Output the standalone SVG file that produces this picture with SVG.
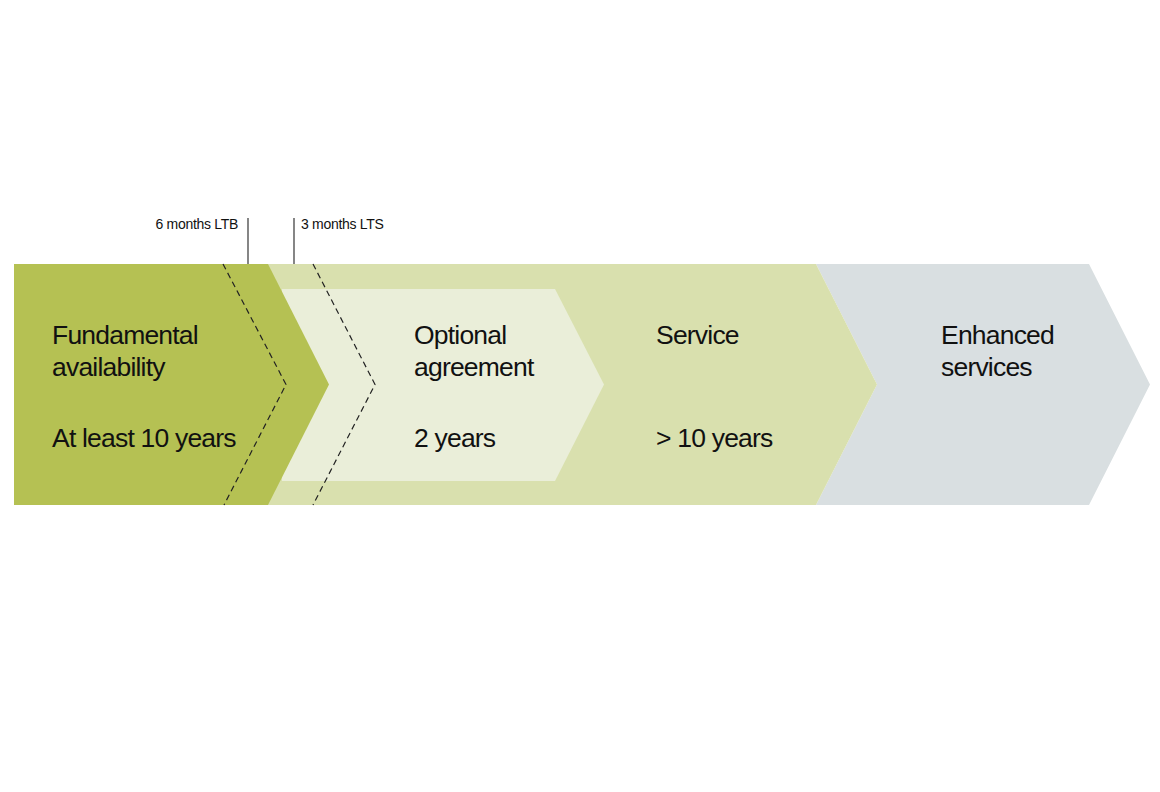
<svg xmlns="http://www.w3.org/2000/svg" width="1160" height="792" viewBox="0 0 1160 792">
<style>
.t{font-family:"Liberation Sans",Arial,sans-serif;font-size:26.5px;letter-spacing:-0.8px;fill:#111}
.s{font-family:"Liberation Sans",Arial,sans-serif;font-size:14px;letter-spacing:-0.3px;fill:#111}
.d{fill:none;stroke:#222;stroke-width:1.2;stroke-dasharray:6,4}
.v{stroke:#444;stroke-width:1.3}
</style>
<rect width="1160" height="792" fill="#fff"/>
<g id="enhanced">
<polygon points="816,264 1089,264 1150,384.5 1089,505 816,505 877,384.5" fill="#d9dfe1"/>
<text class="t" x="941" y="344">Enhanced</text>
<text class="t" x="941" y="376">services</text>
</g>
<g id="service">
<polygon points="268,264 816,264 877,384.5 816,505 268,505" fill="#d9e0ae"/>
<text class="t" x="656" y="344">Service</text>
<text class="t" x="656" y="447">&gt; 10 years</text>
</g>
<g id="optional">
<polygon points="282,289 555,289 604,384.5 555,481 282,481" fill="#eaeed9"/>
<text class="t" x="414" y="344">Optional</text>
<text class="t" x="414" y="376">agreement</text>
<text class="t" x="414" y="447">2 years</text>
</g>
<g id="fundamental">
<polygon points="14,264 268,264 329,384.5 268,505 14,505" fill="#b5c153"/>
<text class="t" x="52" y="344">Fundamental</text>
<text class="t" x="52" y="376">availability</text>
<text class="t" x="52" y="447">At least 10 years</text>
</g>
<g id="connectors">
<polyline class="d" points="223,264 286,384.5 224,505"/>
<polyline class="d" points="313,264 375,384.5 313,505"/>
<line class="v" x1="248" y1="218" x2="248" y2="264"/>
<line class="v" x1="294" y1="218" x2="294" y2="264"/>
</g>
<g id="labels">
<text class="s" x="238" y="229" text-anchor="end">6 months LTB</text>
<text class="s" x="301" y="229">3 months LTS</text>
</g>
</svg>
